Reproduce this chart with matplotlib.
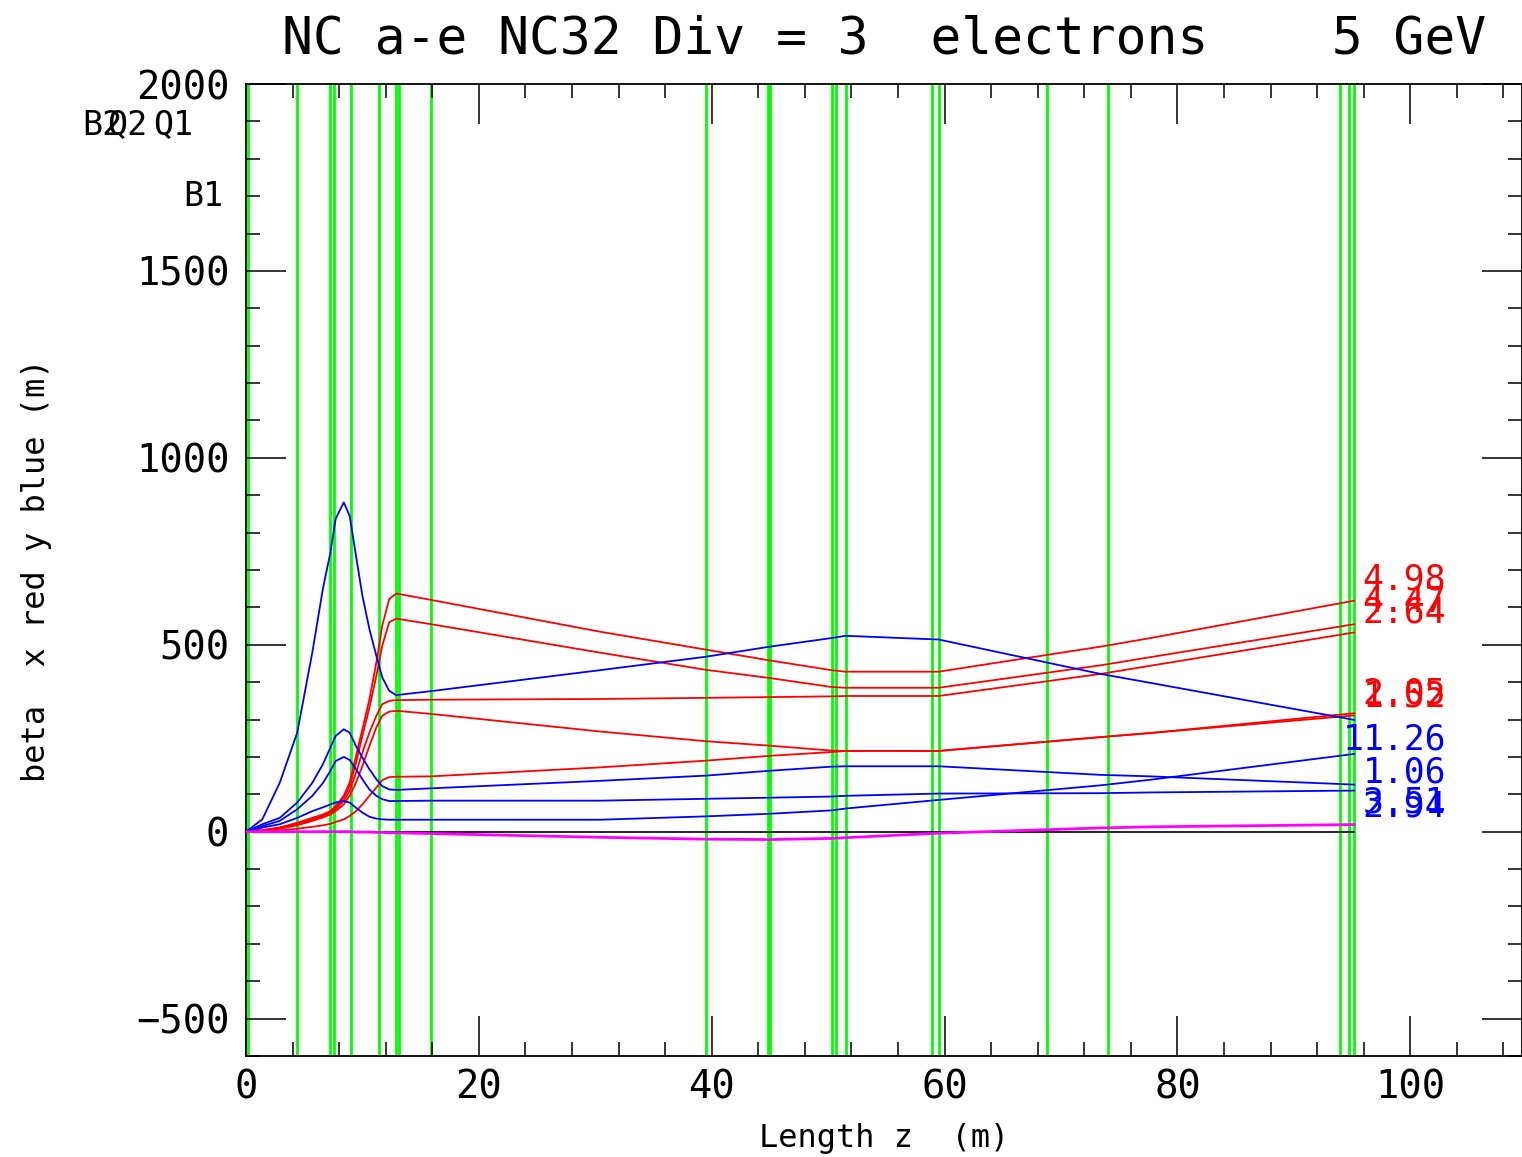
import numpy as np
import matplotlib
matplotlib.use("Agg")
import matplotlib.pyplot as plt
from matplotlib.ticker import MultipleLocator

plt.rcParams['font.family'] = ['DejaVu Sans Mono', 'DejaVu Sans']

# element boundaries (green lines), z in m
elements = [0.2, 4.4, 7.25, 7.6, 9.05, 11.45, 12.9, 13.1, 15.9, 39.5, 44.8, 45.0,
            50.3, 50.7, 51.5, 58.9, 59.5, 68.8, 74.0, 94.0, 94.7, 95.2]

# common z grid of the beta curves
z = [0, 1.4, 2.9, 4.4, 5.7, 6.6, 7.25, 7.7, 8.4, 8.9, 9.45, 10.0, 10.6, 11.2,
     11.7, 12.3, 12.9, 13.1, 15.9, 30.4, 39.5, 45.0, 50.3, 51.5, 59.5, 73.4, 77.7, 95.2]

# beta x (red)
bx1 = [0, 4, 11, 24, 37, 46, 55, 69, 96, 131, 203, 274, 354, 453,
       551, 622, 637, 636, 620, 535, 487, 458, 432, 428, 428, 495, 518, 618]
bx2 = [0, 4, 11, 21, 35, 44, 53, 64, 91, 122, 185, 256, 332, 417,
       497, 560, 570, 569, 555, 479, 433, 411, 387, 385, 385, 445, 467, 555]
bx3 = [0, 3, 9, 20, 31, 41, 51, 60, 82, 109, 158, 212, 265, 310,
       341, 350, 352, 352, 353, 355, 358, 360, 362, 363, 363, 422, 444, 533]
bx4 = [0, 3, 8, 17, 29, 38, 46, 55, 73, 96, 131, 176, 229, 279,
       310, 321, 323, 323, 315, 268, 242, 230, 217, 216, 216, 253, 264, 317]
bx5 = [0, 1, 3, 8, 13, 17, 21, 26, 33, 42, 55, 73, 96, 118,
       138, 146, 147, 147, 148, 172, 190, 203, 213, 216, 216, 253, 264, 311]

# beta y (blue)
by1 = [0, 33, 131, 265, 480, 649, 747, 837, 881, 845, 738, 631, 542, 470,
       413, 377, 365, 366, 376, 432, 468, 495, 518, 524, 514, 422, 398, 299]
by2 = [0, 20, 37, 78, 131, 180, 225, 256, 274, 265, 229, 198, 167, 140,
       122, 113, 112, 112, 116, 136, 150, 163, 174, 175, 175, 152, 148, 126]
by3 = [0, 15, 29, 60, 96, 130, 163, 189, 200, 192, 167, 140, 113, 96,
       87, 82, 82, 82, 83, 83, 88, 91, 94, 96, 102, 103, 105, 110]
by4 = [0, 11, 20, 37, 55, 65, 73, 78, 82, 78, 64, 51, 40, 35,
       33, 32, 32, 32, 32, 32, 41, 48, 57, 62, 85, 124, 139, 208]

# dispersion (magenta)
disp = [0, 0, 0, 0, 0, 0, 0, 0, 0, 0, -1, -1, -1, -2,
        -2, -3, -3, -3, -5, -15, -20, -21, -18, -16, -4, 10, 13, 19]

red_labels = ["4.98", "4.47", "2.64", "2.05", "1.52"]
red_label_y = [674, 615, 585, 369, 362]
blue_labels = ["1.26", "1.06", "3.51", "2.94"]
blue_label_y = [246, 158, 78, 67]

fig = plt.figure(figsize=(15.22, 11.57), dpi=100)
ax = fig.add_axes([246/1522, 101/1157, 1276/1522, 972/1157])

for e in elements:
    ax.axvline(e, color='#00ff00', lw=2.0, zorder=1)

ax.plot([0, 95.2], [0, 0], color='black', lw=1.2, zorder=2)

for b in [bx1, bx2, bx3, bx4, bx5]:
    ax.plot(z, b, color='#ff0000', lw=1.3, zorder=3)
for b in [by1, by2, by3, by4]:
    ax.plot(z, b, color='#0000ff', lw=1.3, zorder=3)
ax.plot(z, disp, color='#ff00ff', lw=2.0, zorder=4)

for t, y in zip(red_labels, red_label_y):
    ax.text(95.9, y, t, color='#ff0000', fontsize=25, va='center', ha='left')
for t, y in zip(blue_labels, blue_label_y):
    ax.text(95.9, y, t, color='#0000ff', fontsize=25, va='center', ha='left')
ax.text(94.2, 246, "1", color='#0000ff', fontsize=25, va='center', ha='left')

# element names on the left
ax.text(-14.1, 1890, "B2", fontsize=24, va='center', ha='left', clip_on=False)
ax.text(-11.9, 1890, "Q2", fontsize=24, va='center', ha='left', clip_on=False)
ax.text(-8.0, 1890, "Q1", fontsize=24, va='center', ha='left', clip_on=False)
ax.text(-5.4, 1698, "B1", fontsize=24, va='center', ha='left', clip_on=False)

ax.set_xlim(0, 109.6)
ax.set_ylim(-600, 2000)
ax.xaxis.set_major_locator(MultipleLocator(20))
ax.xaxis.set_minor_locator(MultipleLocator(4))
ax.yaxis.set_major_locator(MultipleLocator(500))
ax.yaxis.set_minor_locator(MultipleLocator(100))
ax.tick_params(which='both', direction='in', top=True, right=True, width=1.1)
ax.tick_params(which='major', length=29, labelsize=28)
ax.tick_params(which='minor', length=10)
ax.tick_params(axis='x', pad=9)
ax.tick_params(axis='y', pad=12)
for s in ax.spines.values():
    s.set_linewidth(1.3)

ax.set_xlabel("Length z  (m)", fontsize=23, labelpad=12)
ax.set_ylabel("beta  x red y blue (m)", fontsize=23, labelpad=60)
ax.set_title("NC a-e NC32 Div = 3  electrons    5 GeV", fontsize=37, pad=22)

fig.savefig("out.png", dpi=100)
